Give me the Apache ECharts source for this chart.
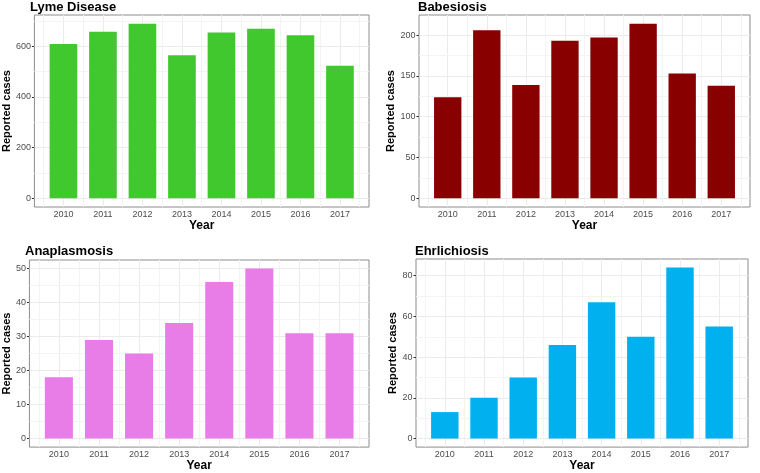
<!DOCTYPE html>
<html>
<head>
<meta charset="utf-8">
<script src="https://cdn.jsdelivr.net/npm/echarts@6/dist/echarts.min.js"></script>
<style>
html,body{margin:0;padding:0;background:#fff;}
#chart{width:760px;height:473px;}
</style>
</head>
<body>
<div id="chart"></div>
<script>
const years = [2010, 2011, 2012, 2013, 2014, 2015, 2016, 2017];
const lymeCases = [609, 657, 689, 565, 654, 669, 644, 523];
const babesiosisCases = [124, 206, 139, 193, 197, 214, 153, 138];
const anaplasmosisCases = [18, 29, 25, 34, 46, 50, 31, 31];
const ehrlichiosisCases = [13, 20, 30, 46, 67, 50, 84, 55];
const lymeTicks = [0, 200, 400, 600];
const babesiosisTicks = [0, 50, 100, 150, 200];
const anaplasmosisTicks = [0, 10, 20, 30, 40, 50];
const ehrlichiosisTicks = [0, 20, 40, 60, 80];
const titles = ['Lyme Disease', 'Babesiosis', 'Anaplasmosis', 'Ehrlichiosis'];

const FONT = '"Liberation Sans", Arial, sans-serif';
const panels = [
  {title: titles[0], data: lymeCases, ticks: lymeTicks, color: '#40c82e',
   rect: {left: 31, top: 15, width: 338, height: 192}, titleTop: 1, yGap: 19},
  {title: titles[1], data: babesiosisCases, ticks: babesiosisTicks, color: '#880000',
   rect: {left: 419, top: 15, width: 331, height: 192}, titleTop: 1, yGap: 20},
  {title: titles[2], data: anaplasmosisCases, ticks: anaplasmosisTicks, color: '#e97de8',
   rect: {left: 26, top: 260, width: 343, height: 189}, titleTop: 245, yGap: 14},
  {title: titles[3], data: ehrlichiosisCases, ticks: ehrlichiosisTicks, color: '#00b0ef',
   rect: {left: 416, top: 259, width: 332, height: 190}, titleTop: 245, yGap: 18}
];

function mids(arr, lo, hi) {
  const out = [];
  const step = arr[1] - arr[0];
  const ext = [arr[0] - step].concat(arr, [arr[arr.length - 1] + step]);
  for (let i = 0; i < ext.length - 1; i++) {
    const m = (ext[i] + ext[i + 1]) / 2;
    if (m > lo && m < hi) out.push(m);
  }
  return out;
}

const option = {
  animation: false,
  backgroundColor: '#fff',
  title: [], grid: [], xAxis: [], yAxis: [], series: []
};

const xMin = years[0] - 0.35 - 0.05 * (years[years.length - 1] - years[0] + 0.7);
const xMax = years[years.length - 1] + 0.35 + 0.05 * (years[years.length - 1] - years[0] + 0.7);

panels.forEach((p, i) => {
  const dmax = Math.max.apply(null, p.data);
  const yMin = -0.05 * dmax, yMax = dmax * 1.05;
  option.title.push({
    text: p.title, left: p.rect.left - 1, top: p.titleTop, padding: 0,
    textStyle: {fontFamily: FONT, fontSize: 13, fontWeight: 'bold', color: '#000'}
  });
  option.grid.push(Object.assign({show: true, borderColor: '#8c8c8c', borderWidth: 1,
    backgroundColor: '#fff', containLabel: false}, p.rect));
  option.xAxis.push({
    type: 'value', gridIndex: i, min: xMin, max: xMax,
    name: 'Year', nameLocation: 'middle', nameGap: 9,
    nameTextStyle: {fontFamily: FONT, fontSize: 12, fontWeight: 'bold', color: '#000', verticalAlign: 'top'},
    axisLine: {show: false},
    axisTick: {show: true, length: 2.5, customValues: years, lineStyle: {color: '#333', width: 1}},
    axisLabel: {show: true, customValues: years, margin: 3, fontFamily: FONT, fontSize: 9, color: '#4d4d4d',
      formatter: v => String(v)},
    splitLine: {show: false}, minorSplitLine: {show: false}
  });
  option.yAxis.push({
    type: 'value', gridIndex: i, min: yMin, max: yMax,
    name: 'Reported cases', nameLocation: 'middle', nameGap: p.yGap,
    nameTextStyle: {fontFamily: FONT, fontSize: 11, fontWeight: 'bold', color: '#000'},
    axisLine: {show: false},
    axisTick: {show: true, length: 2.5, customValues: p.ticks, lineStyle: {color: '#333', width: 1}},
    axisLabel: {show: true, customValues: p.ticks, margin: 3.5, fontFamily: FONT, fontSize: 9, color: '#4d4d4d',
      formatter: v => String(v)},
    splitLine: {show: false}, minorSplitLine: {show: false}
  });
  const major = '#ebebeb', minor = '#f4f4f4';
  const lines = [];
  years.forEach(y => lines.push({xAxis: y, lineStyle: {color: major, width: 1, type: 'solid'}}));
  mids(years, xMin, xMax).forEach(y => lines.push({xAxis: y, lineStyle: {color: minor, width: 1, type: 'solid'}}));
  p.ticks.forEach(t => lines.push({yAxis: t, lineStyle: {color: major, width: 1, type: 'solid'}}));
  mids(p.ticks, yMin, yMax).forEach(t => lines.push({yAxis: t, lineStyle: {color: minor, width: 1, type: 'solid'}}));
  option.series.push({
    type: 'line', xAxisIndex: i, yAxisIndex: i, data: [], z: 1, silent: true,
    markLine: {silent: true, z: 1, symbol: 'none', label: {show: false}, animation: false, data: lines}
  });
  option.series.push({
    type: 'bar', xAxisIndex: i, yAxisIndex: i, z: 3, barWidth: '70%',
    itemStyle: {color: p.color},
    data: years.map((y, k) => [y, p.data[k]])
  });
});

const chart = echarts.init(document.getElementById('chart'), null, {renderer: 'canvas'});
chart.setOption(option);
</script>
</body>
</html>
